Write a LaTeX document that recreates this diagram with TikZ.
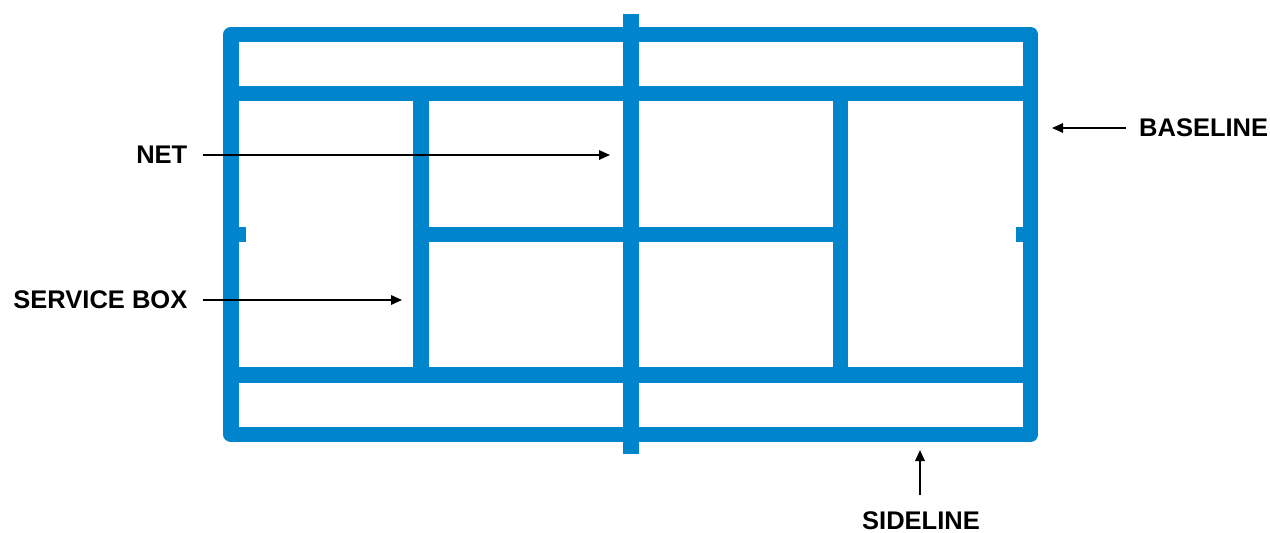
\documentclass[tikz,border=0pt]{standalone}
\usepackage{fontspec}
\setmainfont{Liberation Sans}
\usetikzlibrary{arrows.meta}
\definecolor{court}{HTML}{0084CC}
\tikzset{
  courtline/.style={draw=court, line width=15.5pt, line join=round, line cap=butt},
  netline/.style={draw=court, line width=16pt, line cap=butt},
  centermark/.style={fill=court, draw=none},
  lbl/.style={font=\bfseries\fontsize{25.5}{30}\selectfont, inner sep=0pt, text=black},
  arr/.style={draw=black, line width=1.6pt, -{Triangle[length=11pt,width=9.5pt]}}
}
\begin{document}
\begin{tikzpicture}[x=1pt,y=-1pt]
\useasboundingbox (0,0) rectangle (1270,533);
% court
\draw[courtline] (231,34.5) rectangle (1030.5,434.5);
\draw[courtline] (231,93.5) -- (1030.5,93.5);
\draw[courtline] (231,375) -- (1030.5,375);
\draw[courtline] (421,93.5) -- (421,375);
\draw[courtline] (840.5,93.5) -- (840.5,375);
\draw[courtline] (421,234.5) -- (840.5,234.5);
\draw[netline] (631,14) -- (631,454);
\fill[centermark] (238,226.5) rectangle (246,242);
\fill[centermark] (1016,226.5) rectangle (1024,242);
% labels
\node[lbl, anchor=east] (net) at (187.5,155) {NET};
\node[lbl, anchor=east] (svc) at (187.5,300) {SERVICE BOX};
\node[lbl, anchor=west] (base) at (1139,128) {BASELINE};
\node[lbl, anchor=center] (side) at (921,521) {SIDELINE};
\coordinate (netpt) at (610,155);
\coordinate (svcpt) at (402,300);
\coordinate (basept) at (1052,128);
\coordinate (sidept) at (920,450);
\coordinate (sidestart) at (920,495);
\draw[arr] ([xshift=15pt]net.east) -- (netpt);
\draw[arr] ([xshift=15pt]svc.east) -- (svcpt);
\draw[arr] ([xshift=-13pt]base.west) -- (basept);
\draw[arr] (sidestart) -- (sidept);
\end{tikzpicture}
\end{document}
